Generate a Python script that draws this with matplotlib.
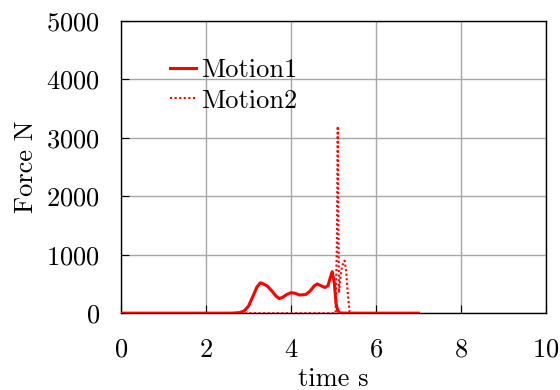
import matplotlib
matplotlib.use("Agg")
import matplotlib.pyplot as plt

# Force histories for the two motions
t1 = [0.0, 2.6, 2.8, 2.9, 3.0, 3.1, 3.2, 3.28, 3.35, 3.45, 3.55, 3.65, 3.72, 3.8, 3.9, 4.0,
      4.1, 4.2, 4.35, 4.45, 4.55, 4.62, 4.7, 4.8, 4.87, 4.93, 4.97, 5.02, 5.06, 5.1, 5.15,
      5.3, 7.0]
f1 = [0, 0, 10, 40, 120, 280, 450, 520, 500, 460, 380, 290, 250, 270, 320, 350,
      340, 310, 320, 380, 470, 500, 470, 440, 470, 620, 710, 520, 170, 40, 5,
      0, 0]

t2 = [0.0, 5.05, 5.08, 5.1, 5.11, 5.13, 5.16, 5.2, 5.26, 5.3, 5.34, 5.38, 5.45, 7.0]
f2 = [0, 0, 1200, 3200, 2000, 350, 600, 800, 900, 700, 300, 20, 0, 0]

plt.rcParams["font.family"] = "cmr10"
plt.rcParams["axes.formatter.use_mathtext"] = True
plt.rcParams["mathtext.fontset"] = "cm"

fig = plt.figure(figsize=(5.6, 3.9), dpi=100)
ax = fig.add_axes([0.216, 0.197, 0.759, 0.749])

ax.plot(t1, f1, color="red", lw=2.2, label="Motion1", zorder=3)
ax.plot(t2, f2, color="red", lw=1.5, linestyle=(0, (1, 1.2)), label="Motion2", zorder=3)

ax.set_xlim(0, 10)
ax.set_ylim(0, 5000)
ax.set_xticks([0, 2, 4, 6, 8, 10])
ax.set_yticks([0, 1000, 2000, 3000, 4000, 5000])
ax.tick_params(direction="in", length=6, labelsize=19)
ax.tick_params(axis="x", pad=18)
ax.tick_params(axis="y", pad=15)
ax.grid(True, color="#a8a8a8", lw=1)
ax.set_axisbelow(True)
for s in ax.spines.values():
    s.set_linewidth(1.0)

ax.set_xlabel("time s", fontsize=19, labelpad=4)
ax.set_ylabel("Force N", fontsize=19, labelpad=6)

ax.legend(loc="upper left", bbox_to_anchor=(0.115, 0.872), frameon=False, fontsize=19,
          handlelength=1.0, handletextpad=0.2, labelspacing=0.25, borderaxespad=0,
          borderpad=0)

fig.savefig("out.png", dpi=100)
